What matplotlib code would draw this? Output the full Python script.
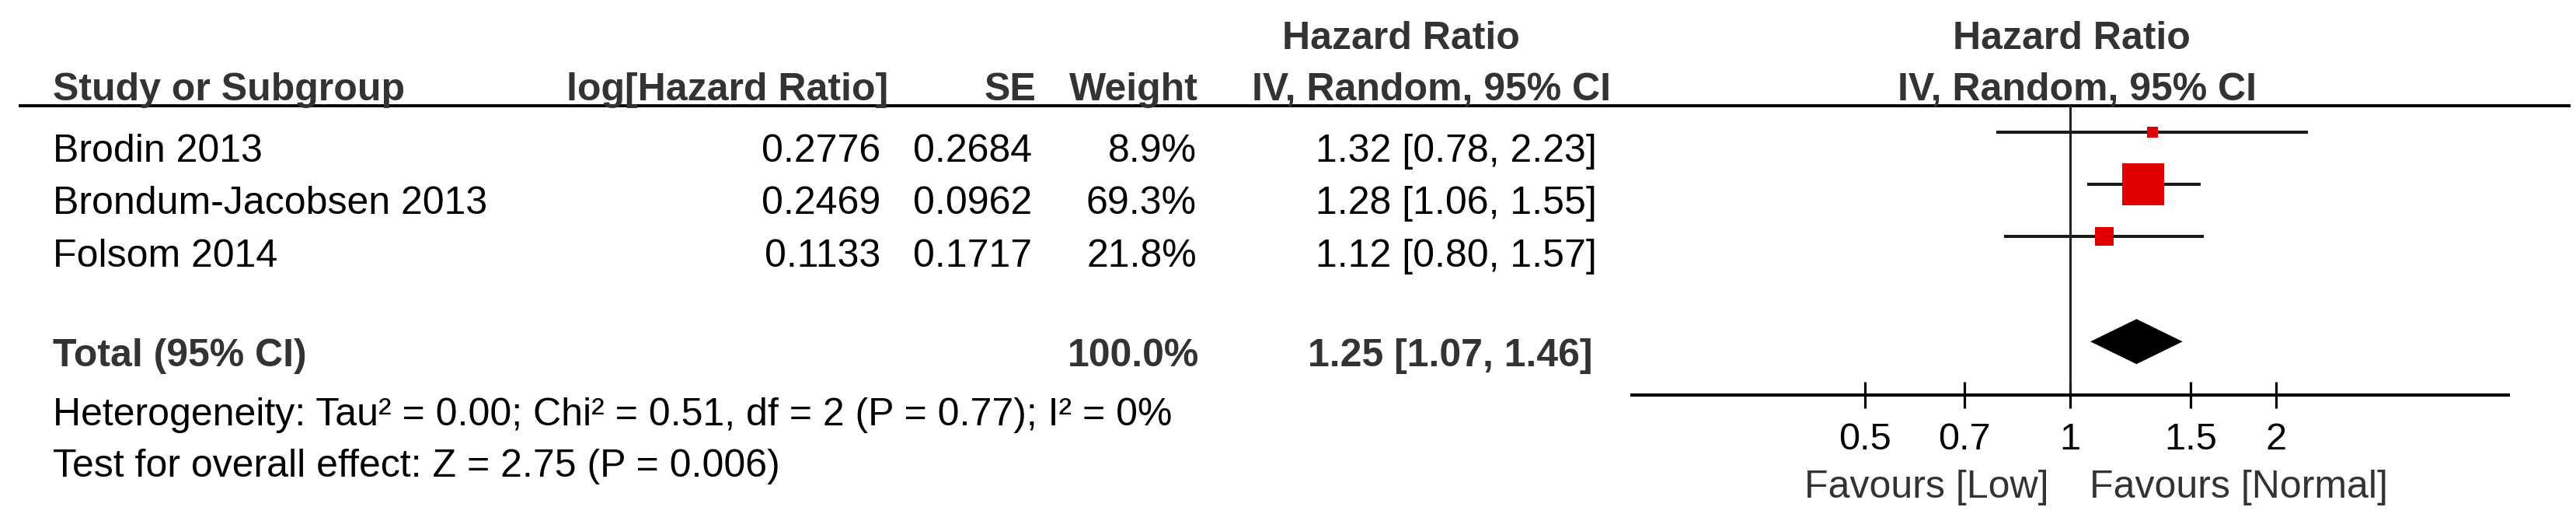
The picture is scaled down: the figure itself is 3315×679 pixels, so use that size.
import numpy as np
import matplotlib
matplotlib.use("Agg")
import matplotlib.pyplot as plt

plt.rcParams['font.family'] = ['Liberation Sans', 'DejaVu Sans']

# Study data
studies = ["Brodin 2013", "Brondum-Jacobsen 2013", "Folsom 2014"]
log_hr = [0.2776, 0.2469, 0.1133]
se = [0.2684, 0.0962, 0.1717]
weights = [8.9, 69.3, 21.8]
hr = [1.32, 1.28, 1.12]
ci_lo = [0.78, 1.06, 0.80]
ci_hi = [2.23, 1.55, 1.57]

# Pooled estimate
total_weight = 100.0
total_hr = 1.25
total_lo = 1.07
total_hi = 1.46
heterogeneity = "Heterogeneity: Tau² = 0.00; Chi² = 0.51, df = 2 (P = 0.77); I² = 0%"
overall = "Test for overall effect: Z = 2.75 (P = 0.006)"

tick_vals = [0.5, 0.7, 1, 1.5, 2]
tick_labels = ["0.5", "0.7", "1", "1.5", "2"]
favours_left = "Favours [Low]"
favours_right = "Favours [Normal]"

W, H = 3316, 679
fig = plt.figure(figsize=(W / 100, H / 100), dpi=100)

# background axes in pixel coordinates for the table text
bg = fig.add_axes([0, 0, 1, 1])
bg.set_xlim(0, W)
bg.set_ylim(H, 0)
bg.axis('off')

FS = 36
dark = '#333333'

def txt(x, y, s, ha='left', bold=False, color='black', size=FS):
    bg.text(x, y, s, ha=ha, va='baseline', fontsize=size,
            fontweight='bold' if bold else 'normal', color=color)

# headers
txt(1803, 63, "Hazard Ratio", ha='center', bold=True, color=dark)
txt(2666, 63, "Hazard Ratio", ha='center', bold=True, color=dark)
txt(68, 129, "Study or Subgroup", bold=True, color=dark)
txt(1143, 129, "log[Hazard Ratio]", ha='right', bold=True, color=dark)
txt(1333, 129, "SE", ha='right', bold=True, color=dark)
txt(1542, 129, "Weight", ha='right', bold=True, color=dark)
txt(1842, 129, "IV, Random, 95% CI", ha='center', bold=True, color=dark)
txt(2673, 129, "IV, Random, 95% CI", ha='center', bold=True, color=dark)
bg.plot([24, 3308], [136, 136], color='black', lw=2.8, solid_capstyle='butt')

# study rows
row_base = [208, 275, 343]
for i, name in enumerate(studies):
    y = row_base[i]
    txt(68, y, name)
    txt(1133, y, f"{log_hr[i]:.4f}", ha='right')
    txt(1328, y, f"{se[i]:.4f}", ha='right')
    txt(1540, y, f"{weights[i]:.1f}%", ha='right')
    txt(2055, y, f"{hr[i]:.2f} [{ci_lo[i]:.2f}, {ci_hi[i]:.2f}]", ha='right')

# total row and footnotes
txt(68, 471, "Total (95% CI)", bold=True, color=dark)
txt(1543, 471, f"{total_weight:.1f}%", ha='right', bold=True, color=dark)
txt(2050, 471, f"{total_hr:.2f} [{total_lo:.2f}, {total_hi:.2f}]", ha='right', bold=True, color=dark)
txt(68, 547, heterogeneity)
txt(68, 613, overall)

txt(2637, 640, favours_left, ha='right', color=dark)
txt(2689, 640, favours_right, ha='left', color=dark)

# forest plot axes
x0, x1, ytop, ybot = 2100, 3228, 136, 508
ax = fig.add_axes([x0 / W, 1 - ybot / H, (x1 - x0) / W, (ybot - ytop) / H])
ax.patch.set_alpha(0)
ax.set_xscale('log')
ax.set_xlim(0.228, 4.38)
ax.set_ylim(5.02, -0.5)
for s in ['top', 'left', 'right']:
    ax.spines[s].set_visible(False)
ax.spines['bottom'].set_linewidth(3.0)
ax.set_yticks([])
ax.minorticks_off()
ax.set_xticks(tick_vals)
ax.set_xticklabels(tick_labels)
ax.tick_params(axis='x', which='major', direction='inout', length=24,
               width=2.3, labelsize=35, pad=13)
ax.tick_params(axis='x', which='minor', length=0)

ax.axvline(1, color='#222222', lw=2.2)

rows = np.arange(len(studies))
for i in rows:
    ax.plot([ci_lo[i], ci_hi[i]], [i, i], color='#1a1a1a', lw=2.9,
            solid_capstyle='butt')
    side_px = 9.1 + 0.662 * weights[i]
    ax.plot(hr[i], i, marker='s', markersize=side_px * 0.72,
            color='#e00000', markeredgewidth=0, linestyle='none')

# pooled diamond
ty = 4
dh = 0.43
ax.fill([total_lo, total_hr, total_hi, total_hr],
        [ty, ty - dh, ty, ty + dh], color='black', lw=0)

fig.savefig("out.png", dpi=100)
